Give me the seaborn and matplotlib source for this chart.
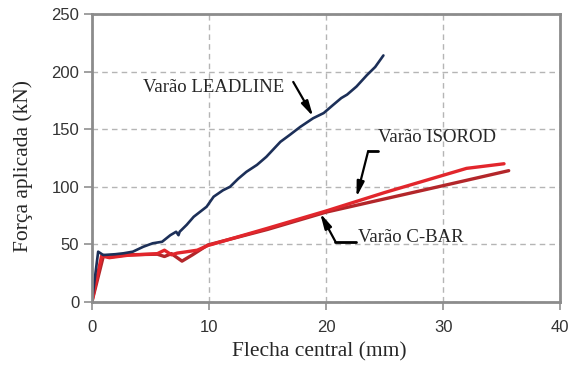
import numpy as np
import pandas as pd
import matplotlib
matplotlib.use("Agg")
import matplotlib.pyplot as plt
import seaborn as sns

# Ensaio de flexao - curvas forca x flecha
leadline_x = [0.0, 0.54, 0.97, 2.0, 2.7, 3.5, 4.4, 5.2, 6.0, 6.7, 7.2, 7.4, 7.5, 8.1, 8.7,
              9.8, 10.4, 11.2, 11.8, 12.5, 13.2, 14.1, 14.9, 16.1, 16.9, 17.8, 18.9,
              19.8, 20.6, 21.3, 21.8, 22.6, 23.5, 24.2, 24.9]
leadline_y = [0.0, 43.7, 40.8, 41.5, 42.3, 43.7, 48.0, 51.0, 52.3, 58.0, 61.0, 58.0, 61.0, 67.0, 74.0,
              82.7, 91.4, 97.0, 100.0, 107.0, 113.0, 119.0, 126.0, 139.0, 145.0, 152.0, 159.5,
              164.0, 171.0, 177.0, 180.0, 187.0, 197.0, 204.0, 214.0]

isorod_x = [0.0, 0.83, 1.5, 3.0, 5.6, 6.2, 6.8, 7.3, 8.0, 9.0, 9.9, 15.0, 20.0, 25.0, 30.0, 32.0, 35.2]
isorod_y = [0.0, 40.0, 38.5, 40.5, 42.0, 45.0, 41.0, 42.5, 43.5, 45.0, 49.0, 64.0, 79.0, 95.0, 110.0, 116.0, 120.0]

cbar_x = [0.0, 1.0, 1.5, 3.0, 5.6, 6.2, 6.8, 7.7, 8.6, 9.9, 15.0, 20.0, 25.0, 30.0, 35.6]
cbar_y = [0.0, 40.5, 39.0, 41.0, 41.5, 39.5, 42.0, 35.5, 41.0, 49.5, 63.0, 78.0, 89.5, 101.0, 114.0]

x_ticks = [0, 10, 20, 30, 40]
y_ticks = [0, 50, 100, 150, 200, 250]

sns.set_style("white")
plt.rcParams['font.family'] = ['Liberation Serif', 'DejaVu Serif']
serif = ['Liberation Serif', 'DejaVu Serif']

df = pd.concat([
    pd.DataFrame({'x': leadline_x, 'y': leadline_y, 'bar': 'LEADLINE'}),
    pd.DataFrame({'x': isorod_x, 'y': isorod_y, 'bar': 'ISOROD'}),
    pd.DataFrame({'x': cbar_x, 'y': cbar_y, 'bar': 'C-BAR'}),
], ignore_index=True)

palette = {'LEADLINE': '#1c2f58', 'ISOROD': '#e2262c', 'C-BAR': '#b3262a'}

fig = plt.figure(figsize=(5.74, 3.67), dpi=100)
ax = fig.add_axes([0.160, 0.177, 0.816, 0.785])

for name, lw in [('C-BAR', 2.4), ('ISOROD', 2.4), ('LEADLINE', 1.9)]:
    sub = df[df['bar'] == name]
    sns.lineplot(data=sub, x='x', y='y', color=palette[name], lw=lw,
                 sort=False, estimator=None, ax=ax, legend=False)

ax.set_xlim(0, 40)
ax.set_ylim(0, 250)
ax.set_xticks(x_ticks)
ax.set_yticks(y_ticks)
for lab in ax.get_xticklabels() + ax.get_yticklabels():
    lab.set_family('Liberation Sans')
    lab.set_fontsize(12)
    lab.set_color('#333333')
ax.tick_params(axis='both', length=6, width=1.2, color='#909090', pad=3, direction='out',
               bottom=True, left=True)
ax.tick_params(axis='x', pad=7)
ax.grid(True, ls=(0, (4, 3)), color='#b5b5b5', lw=1)
for sp in ax.spines.values():
    sp.set_color('#8c8c8c')
    sp.set_linewidth(2)

ax.set_xlabel('Flecha central (mm)', fontsize=15.5, family=serif)
ax.set_ylabel('Força aplicada (kN)', fontsize=15.5, family=serif)
ax.xaxis.set_label_coords(0.485, -0.139)
ax.yaxis.set_label_coords(-0.126, 0.472)

# anotacoes
arrow = dict(arrowstyle='-|>,head_length=0.9,head_width=0.22', color='black', lw=1.6,
             shrinkA=0, shrinkB=0)
ax.annotate('', xy=(18.9, 161), xytext=(17.2, 191), arrowprops=arrow)
ax.text(4.4, 186, 'Varão LEADLINE', fontsize=13.5, va='center', ha='left', family=serif)

ax.plot([24.4, 23.6], [131, 131], color='black', lw=2)
ax.annotate('', xy=(22.6, 91), xytext=(23.6, 131), arrowprops=arrow)
ax.text(24.4, 143, 'Varão ISOROD', fontsize=13.5, va='center', ha='left', family=serif)

ax.plot([22.6, 20.8], [52.5, 52.5], color='black', lw=2)
ax.annotate('', xy=(19.5, 77), xytext=(20.8, 52.5), arrowprops=arrow)
ax.text(22.7, 56, 'Varão C-BAR', fontsize=13.5, va='center', ha='left', family=serif)

fig.savefig('out.png', dpi=100)
